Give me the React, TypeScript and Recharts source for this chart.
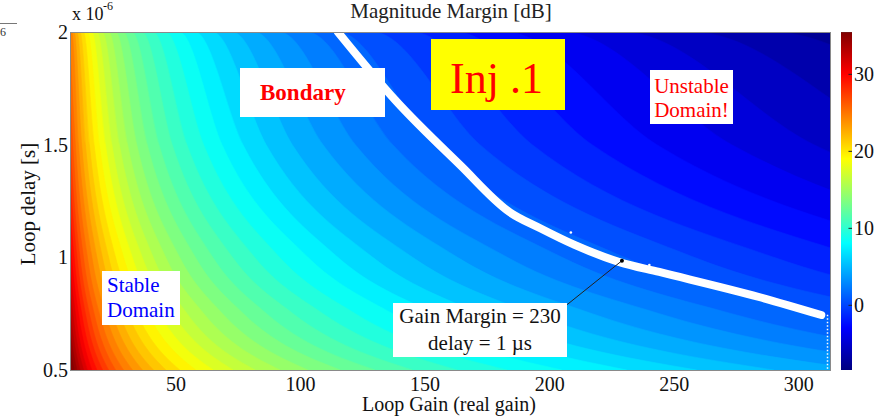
import React from 'react'
import { ComposedChart, Area, Line, Scatter, XAxis, YAxis } from 'recharts'

const gainDomain = [7.5, 312.5]
const delayDomain = [0.5, 2]
const colorDomain = [-8.4, 35.5]

const xTicks = [50, 100, 150, 200, 250, 300]
const yTicks = [0.5, 1, 1.5, 2]
const colorTicks = [0, 10, 20, 30]

const delayRows = [2, 1.5, 1, 0.75, 0.5]
// contour levels in dB, each one fills everything above it
const levels = [
  -8, -7, -6, -5, -4, -3, -2, -1, 0, 1, 2, 3, 4, 5, 6, 7, 8, 9, 10, 11, 12, 13,
  14, 15, 16, 17, 18, 19, 20, 21, 22, 23, 24, 25, 26, 27, 28, 29, 30, 31, 32, 33, 34, 35,
]
// loop gain where each level crosses each delay row
const levelGains = [
  [324, 432, 648, 864, 1297],
  [289, 385, 578, 770, 1155],
  [257, 343, 515, 687, 1030],
  [229, 306, 459, 612, 918],
  [205, 273, 409, 545, 818],
  [182, 243, 365, 486, 729],
  [162, 217, 325, 433, 650],
  [145, 193, 290, 386, 579],
  [129, 172, 258, 344, 516],
  [115, 153, 230, 307, 460],
  [102.5, 137, 205, 273, 410],
  [91.4, 122, 183, 244, 365],
  [81.4, 109, 163, 217, 326],
  [72.6, 96.7, 145, 193, 290],
  [64.7, 86.2, 129, 172, 259],
  [57.7, 76.9, 115, 154, 231],
  [51.4, 68.5, 103, 137, 205],
  [45.8, 61.1, 91.6, 122, 183],
  [40.8, 54.4, 81.6, 109, 163],
  [36.4, 48.5, 72.7, 97, 145],
  [32.4, 43.2, 64.8, 86.4, 130],
  [28.9, 38.5, 57.8, 77.1, 116],
  [25.8, 34.3, 51.5, 68.7, 103],
  [23.0, 30.6, 45.9, 61.2, 91.8],
  [20.5, 27.3, 40.9, 54.5, 81.8],
  [18.3, 24.3, 36.5, 48.7, 73],
  [16.3, 21.7, 32.5, 43.3, 65],
  [14.5, 19.3, 29.0, 38.7, 58],
  [12.9, 17.2, 25.8, 34.4, 51.6],
  [11.5, 15.3, 23.0, 30.7, 46],
  [10.3, 13.7, 20.5, 27.3, 41],
  [9.15, 12.2, 18.3, 24.4, 36.6],
  [8.15, 10.9, 16.3, 21.7, 32.6],
  [7.25, 9.67, 14.5, 19.3, 29],
  [6.45, 8.6, 12.9, 17.2, 25.8],
  [5.75, 7.67, 11.5, 15.3, 23],
  [5.15, 6.87, 10.3, 13.7, 20.6],
  [4.58, 6.1, 9.16, 12.2, 18.3],
  [4.08, 5.44, 8.16, 10.9, 16.3],
  [3.64, 4.85, 7.27, 9.69, 14.5],
  [3.24, 4.32, 6.48, 8.64, 13],
  [2.89, 3.85, 5.78, 7.71, 11.6],
  [2.58, 3.43, 5.15, 6.87, 10.3],
  [2.3, 3.06, 4.59, 6.12, 9.18],
]

// stability boundary (white line)
const boundaryGain = [115, 138, 164, 184, 196, 210, 228, 244, 284, 309]
const boundaryDelay = [2.0, 1.698, 1.41, 1.2, 1.13, 1.055, 0.979, 0.935, 0.824, 0.744]
// loose boundary samples next to the line
const stragglerGain = [125, 137, 140.7, 144.7, 208.5, 240]
const stragglerDelay = [1.876, 1.698, 1.667, 1.622, 1.11, 0.966]

const FONT = "'Liberation Serif', 'Times New Roman', serif"

function jet(v: number) {
  const t = (v - colorDomain[0]) / (colorDomain[1] - colorDomain[0])
  const c = (k: number) => Math.round(255 * Math.max(0, Math.min(1, 1.5 - Math.abs(4 * t - k))))
  return `rgb(${c(3)},${c(2)},${c(1)})`
}

const bands = levels.map((lvl, i) => {
  const next = i + 1 < levels.length ? levels[i + 1] : colorDomain[1]
  const pts = delayRows.map((d, j) => ({ g: levelGains[i][j], d }))
  if (pts[0].g > gainDomain[0]) pts.unshift({ g: gainDomain[0], d: delayDomain[1] })
  return { key: `lvl${lvl}`, fill: jet((lvl + next) / 2), pts }
})
const background = [
  { g: gainDomain[0], d: delayDomain[1] },
  { g: gainDomain[1], d: delayDomain[1] },
]
const boundary = boundaryGain.map((g, i) => ({ g, d: boundaryDelay[i] }))
const stragglers = stragglerGain.map((g, i) => ({ g, d: stragglerDelay[i] }))

// colour bar: one full-height strip, plus tick stubs
const barData = [
  { x: 0, v: colorDomain[1] },
  { x: 1, v: colorDomain[1] },
]
const barStops = Array.from({ length: 17 }, (_, k) => k / 16)

const tickStyle = { fontSize: 20, fill: '#111', fontFamily: FONT }

const abs = (s: React.CSSProperties): React.CSSProperties => ({ position: 'absolute', fontFamily: FONT, whiteSpace: 'nowrap', ...s })

export default function App() {
  return (
    <div style={{ position: 'absolute', left: 0, top: 0, width: 883, height: 419, background: '#fff', overflow: 'hidden' }}>
      <div style={{ position: 'absolute', left: 0, top: 0 }}>
        <ComposedChart width={883} height={419} margin={{ top: 32, right: 53, bottom: 0, left: 0 }}>
          <XAxis dataKey="g" type="number" domain={gainDomain} ticks={xTicks} allowDataOverflow height={49}
            tickLine={false} axisLine={false} tickSize={0} tickMargin={7} tick={tickStyle} />
          <YAxis dataKey="d" type="number" domain={delayDomain} ticks={yTicks} allowDataOverflow width={70}
            tickLine={false} axisLine={false} tickSize={0} tickMargin={2} tick={tickStyle} />
          <Area data={background} dataKey="d" type="linear" fill={jet(-8.2)} fillOpacity={1} stroke="none"
            baseValue={0.5} dot={false} activeDot={false} isAnimationActive={false} />
          {bands.map((b) => (
            <Area key={b.key} data={b.pts} dataKey="d" type="monotone" fill={b.fill} fillOpacity={1}
              stroke={b.fill} strokeWidth={0.6} baseValue={0.5} dot={false} activeDot={false} isAnimationActive={false} />
          ))}
          <Line data={boundary} dataKey="d" type="monotone" stroke="#fff" strokeWidth={8} strokeLinecap="round"
            dot={false} activeDot={false} isAnimationActive={false} />
          <Scatter data={stragglers} dataKey="d" fill="#fff"
            shape={(p: any) => <circle cx={p.cx} cy={p.cy} r={1.3} fill="#fff" />} isAnimationActive={false} />
          <Line data={[{ g: 311.5, d: 0.745 }, { g: 311.5, d: 0.5 }]} dataKey="d" type="linear" stroke="#fff"
            strokeWidth={1.5} strokeDasharray="1.5 2" dot={false} activeDot={false} isAnimationActive={false} />
          <Line data={[{ g: 207, d: 0.79 }, { g: 229, d: 0.985 }]} dataKey="d" type="linear" stroke="#222"
            strokeWidth={1} dot={false} activeDot={false} isAnimationActive={false} />
          <Line data={[{ g: 229, d: 0.985 }]} dataKey="d" stroke="#000" dot={{ r: 2, fill: '#000', stroke: 'none' }}
            activeDot={false} isAnimationActive={false} />
        </ComposedChart>
      </div>

      <div style={{ position: 'absolute', left: 800, top: 0 }}>
        <ComposedChart width={83} height={419} data={barData} margin={{ top: 32, right: 0, bottom: 0, left: 41 }}>
          <defs>
            <linearGradient id="jetbar" x1="0" y1="1" x2="0" y2="0">
              {barStops.map((t) => (
                <stop key={t} offset={t} stopColor={jet(colorDomain[0] + t * (colorDomain[1] - colorDomain[0]))} />
              ))}
            </linearGradient>
          </defs>
          <XAxis type="number" dataKey="x" domain={[0, 1]} height={49} tick={false} tickLine={false} axisLine={false} />
          <YAxis type="number" dataKey="v" orientation="right" domain={colorDomain} ticks={colorTicks} width={31}
            allowDataOverflow tickLine={false} axisLine={false} tickSize={0} tickMargin={2} tick={tickStyle} />
          <Area dataKey="v" type="linear" fill="url(#jetbar)" fillOpacity={1} stroke="#555" strokeWidth={0.5}
            baseValue={colorDomain[0]} dot={false} activeDot={false} isAnimationActive={false} />
          {colorTicks.map((v) => (
            <Line key={v} data={[{ x: 0.68, v }, { x: 1, v }]} dataKey="v" type="linear" stroke="#222" strokeWidth={1}
              dot={false} activeDot={false} isAnimationActive={false} />
          ))}
        </ComposedChart>
      </div>

      {/* plot frame */}
      <div style={{ position: 'absolute', left: 70, top: 32, width: 759, height: 337, border: '1px solid #8a8a8a', pointerEvents: 'none' }} />

      {/* titles */}
      <div style={abs({ left: 451, top: -1, fontSize: 21, color: '#222', transform: 'translateX(-50%)' })}>Magnitude Margin [dB]</div>
      <div style={abs({ left: 72, top: 4, fontSize: 18, color: '#111' })}>x 10</div>
      <div style={abs({ left: 103, top: -1, fontSize: 12, color: '#111' })}>-6</div>
      <div style={{ position: 'absolute', left: 0, top: 23, width: 17, height: 1, background: '#777' }} />
      <div style={abs({ left: 0, top: 25, fontSize: 12, color: '#333' })}>6</div>
      <div style={abs({ left: 449, top: 393, fontSize: 20, color: '#111', transform: 'translateX(-50%)' })}>Loop Gain (real gain)</div>
      <div style={abs({ left: 28, top: 204, fontSize: 21, color: '#111', transform: 'translate(-50%, -50%) rotate(-90deg)' })}>Loop delay [s]</div>

      {/* annotations */}
      <div style={abs({ left: 240, top: 68, width: 145, height: 49, background: '#fff' })}>
        <div style={abs({ left: 20, top: 12, fontSize: 23, fontWeight: 'bold', color: '#ff0000' })}>Bondary</div>
      </div>
      <div style={abs({ left: 431, top: 39, width: 134, height: 71, background: '#ffff00' })}>
        <div style={abs({ left: 19, top: 14, fontSize: 44, color: '#ff0000' })}>Inj .1</div>
      </div>
      <div style={abs({ left: 650, top: 70, width: 83, height: 54, background: '#fff', color: '#ff0000', fontSize: 21, lineHeight: '24px', textAlign: 'center', paddingTop: 4, boxSizing: 'border-box' })}>
        Unstable<br />Domain!
      </div>
      <div style={abs({ left: 102, top: 271, width: 78, height: 54, background: '#fff', color: '#0000ff', fontSize: 21, lineHeight: '25px', paddingLeft: 5, paddingTop: 2, boxSizing: 'border-box' })}>
        Stable<br />Domain
      </div>
      <div style={abs({ left: 393, top: 303, width: 174, height: 54, background: '#fff', color: '#111', fontSize: 21, lineHeight: '27px', textAlign: 'center', boxSizing: 'border-box' })}>
        Gain Margin = 230<br />delay = 1 µs
      </div>
    </div>
  )
}
